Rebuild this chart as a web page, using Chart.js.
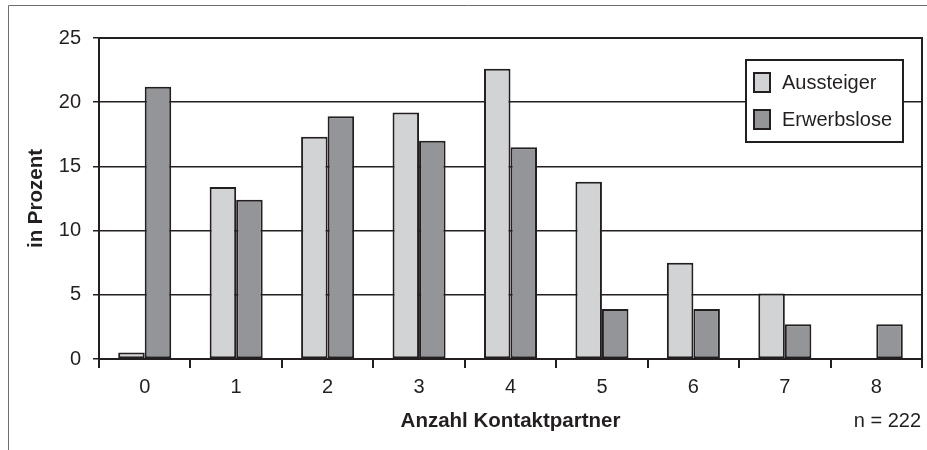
<!DOCTYPE html>
<html>
<head>
<meta charset="utf-8">
<script src="https://cdn.jsdelivr.net/npm/chart.js@4/dist/chart.umd.min.js"></script>
<style>
html,body{margin:0;padding:0;background:#fff;}
#wrap{position:relative;width:927px;height:450px;}
</style>
</head>
<body>
<div id="wrap"><canvas id="c" width="927" height="450"></canvas></div>
<script>
const categories = ["0","1","2","3","4","5","6","7","8"];
const aussteiger = [0.5, 13.4, 17.3, 19.2, 22.6, 13.8, 7.5, 5.1, null];
const erwerbslose = [21.2, 12.4, 18.9, 17.0, 16.5, 3.9, 3.9, 2.7, 2.7];
const seriesNames = ["Aussteiger", "Erwerbslose"];
const yTitle = "in Prozent";
const xTitle = "Anzahl Kontaktpartner";
const noteText = "n = 222";

const INK = "#231f20";
const FONT = "'Liberation Sans', Arial, Helvetica, sans-serif";

const framePlugin = {
  id: 'frame',
  afterDraw(chart) {
    const ctx = chart.ctx;
    const a = chart.chartArea;
    ctx.save();
    // outer frame
    ctx.strokeStyle = "#6d6e71";
    ctx.lineWidth = 1;
    ctx.beginPath();
    ctx.moveTo(8.5, 450);
    ctx.lineTo(8.5, 5.5);
    ctx.lineTo(927, 5.5);
    ctx.stroke();
    // plot top/right border
    ctx.strokeStyle = INK;
    ctx.lineWidth = 2;
    ctx.beginPath();
    ctx.moveTo(a.left, a.top);
    ctx.lineTo(a.right, a.top);
    ctx.lineTo(a.right, a.bottom + 9);
    ctx.stroke();
    // legend
    const bx = a.right - 176, by = a.top + 22, bw = 157, bh = 82;
    ctx.fillStyle = "#fff";
    ctx.fillRect(bx, by, bw, bh);
    ctx.lineWidth = 2;
    ctx.strokeStyle = INK;
    ctx.strokeRect(bx, by, bw, bh);
    ctx.font = "20px " + FONT;
    ctx.textBaseline = "middle";
    ctx.textAlign = "left";
    chart.data.datasets.forEach((ds, i) => {
      const cy = by + 22 + i * 37;
      ctx.fillStyle = ds.backgroundColor;
      ctx.fillRect(bx + 8, cy - 9, 16, 19);
      ctx.strokeStyle = INK;
      ctx.lineWidth = 2;
      ctx.strokeRect(bx + 8, cy - 9, 16, 19);
      ctx.fillStyle = INK;
      ctx.fillText(ds.label, bx + 36, cy + 1);
    });
    // note
    ctx.font = "20px " + FONT;
    ctx.textAlign = "right";
    ctx.fillStyle = INK;
    ctx.fillText(noteText, a.right - 1, 421);
    ctx.restore();
  }
};

new Chart(document.getElementById('c'), {
  type: 'bar',
  data: {
    labels: categories,
    datasets: [
      { label: seriesNames[0], data: aussteiger, backgroundColor: "#d1d3d4", borderColor: INK, borderWidth: 2, borderSkipped: false },
      { label: seriesNames[1], data: erwerbslose, backgroundColor: "#939598", borderColor: INK, borderWidth: 2, borderSkipped: false }
    ]
  },
  options: {
    responsive: false,
    animation: false,
    layout: { padding: { top: 38, right: 5, left: 0, bottom: 0 } },
    datasets: { bar: { categoryPercentage: 0.58, barPercentage: 1.0 } },
    plugins: { legend: { display: false }, tooltip: { enabled: false } },
    scales: {
      x: {
        afterFit(s) { s.height = 91; },
        grid: { display: true, drawOnChartArea: false, drawTicks: true, tickLength: 9, color: INK, lineWidth: 2, offset: true },
        border: { display: true, color: INK, width: 2 },
        ticks: { color: INK, font: { family: FONT, size: 20 }, padding: 7 },
        title: { display: true, text: xTitle, color: INK, font: { family: FONT, size: 20.5, weight: 'bold' }, padding: { top: 0, bottom: 16 } }
      },
      y: {
        afterFit(s) { s.width = 99; },
        min: 0, max: 25,
        ticks: { stepSize: 5, color: INK, font: { family: FONT, size: 20 }, padding: 12 },
        grid: { color: INK, lineWidth: 1.5, tickLength: 6, drawTicks: true },
        border: { display: true, color: INK, width: 2 },
        title: { display: true, text: yTitle, color: INK, font: { family: FONT, size: 20.5, weight: 'bold' }, padding: { top: 24, bottom: 0 } }
      }
    }
  },
  plugins: [framePlugin]
});
</script>
</body>
</html>
